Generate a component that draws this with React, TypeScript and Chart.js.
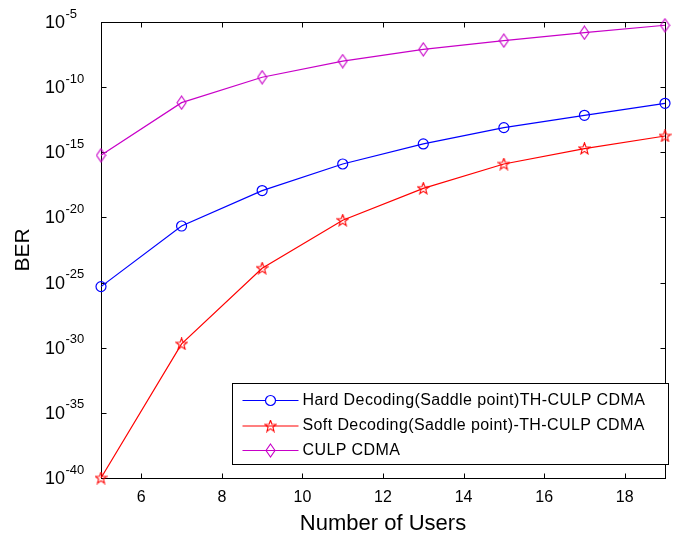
import React, { useEffect, useRef } from "react";
import { Chart, registerables } from "chart.js";
Chart.register(...registerables);

const FONT = "'Liberation Sans', Arial, Helvetica, sans-serif";

const users = [5, 7, 9, 11, 13, 15, 17, 19];
const hardBER = [4.9e-26, 2.19e-21, 1.15e-18, 1.26e-16, 4.37e-15, 7.76e-14, 6.92e-13, 5.75e-12];
const softBER = [1e-40, 1.95e-30, 1.26e-24, 6.03e-21, 1.7e-18, 1.26e-16, 1.91e-15, 1.78e-14];
const culpBER = [5.89e-16, 6.46e-12, 5.75e-10, 1.0e-8, 7.94e-8, 3.72e-7, 1.51e-6, 5.62e-6];
const xTicks = [6, 8, 10, 12, 14, 16, 18];
const yTickExps = [-40, -35, -30, -25, -20, -15, -10, -5];
const seriesLabels = [
  "Hard Decoding(Saddle point)TH-CULP CDMA",
  "Soft Decoding(Saddle point)-TH-CULP CDMA",
  "CULP CDMA",
];
const seriesColors = ["#0000ff", "#ff0000", "#c800c8"];

function makeStar(color: string): HTMLCanvasElement {
  const c = document.createElement("canvas");
  c.width = 13;
  c.height = 13;
  const g = c.getContext("2d")!;
  const cx = 6.5, cy = 6.8, R = 6, r = 2.5;
  g.beginPath();
  for (let i = 0; i < 10; i++) {
    const ang = -Math.PI / 2 + (i * Math.PI) / 5;
    const rad = i % 2 === 0 ? R : r;
    const px = cx + rad * Math.cos(ang);
    const py = cy + rad * Math.sin(ang);
    if (i === 0) g.moveTo(px, py);
    else g.lineTo(px, py);
  }
  g.closePath();
  g.strokeStyle = color;
  g.lineWidth = 1.1;
  g.stroke();
  return c;
}

function makeDiamond(color: string): HTMLCanvasElement {
  const c = document.createElement("canvas");
  c.width = 11;
  c.height = 15;
  const g = c.getContext("2d")!;
  g.beginPath();
  g.moveTo(5.5, 1);
  g.lineTo(10, 7.5);
  g.lineTo(5.5, 14);
  g.lineTo(1, 7.5);
  g.closePath();
  g.strokeStyle = color;
  g.lineWidth = 1.1;
  g.stroke();
  return c;
}

export default function App() {
  const ref = useRef<HTMLCanvasElement | null>(null);

  useEffect(() => {
    document.body.style.margin = "0";
    const canvas = ref.current!;
    const star = makeStar(seriesColors[1]);
    const diamond = makeDiamond(seriesColors[2]);
    const styles: any[] = ["circle", star, diamond];
    const values = [hardBER, softBER, culpBER];

    const framePlugin = {
      id: "frame",
      beforeDatasetsDraw(chart: any) {
        const { ctx, chartArea: a, scales } = chart;
        ctx.save();
        ctx.strokeStyle = "#000";
        ctx.lineWidth = 1;
        const L = Math.round(a.left) + 0.5;
        const R = Math.round(a.right) + 0.5;
        const T = Math.round(a.top) + 0.5;
        const B = Math.round(a.bottom) + 0.5;
        ctx.strokeRect(L, T, R - L, B - T);
        const tl = 5;
        ctx.beginPath();
        for (const v of xTicks) {
          const x = Math.round(scales.x.getPixelForValue(v)) + 0.5;
          ctx.moveTo(x, B);
          ctx.lineTo(x, B - tl);
          ctx.moveTo(x, T);
          ctx.lineTo(x, T + tl);
        }
        for (const e of yTickExps) {
          const y = Math.round(scales.y.getPixelForValue(Math.pow(10, e))) + 0.5;
          ctx.moveTo(L, y);
          ctx.lineTo(L + tl, y);
          ctx.moveTo(R, y);
          ctx.lineTo(R - tl, y);
        }
        ctx.stroke();
        // y tick labels 10^e
        ctx.fillStyle = "#000";
        ctx.textAlign = "left";
        ctx.textBaseline = "middle";
        for (const e of yTickExps) {
          const y = scales.y.getPixelForValue(Math.pow(10, e));
          ctx.font = `18px ${FONT}`;
          ctx.fillText("10", 45, y + 1);
          const w = ctx.measureText("10").width;
          ctx.font = `13px ${FONT}`;
          ctx.fillText(String(e), 45 + w + 0.5, y - 8);
        }
        ctx.restore();
      },
      afterDraw(chart: any) {
        const { ctx, chartArea: a } = chart;
        ctx.save();
        const lw = 436, lh = 81;
        const lx = Math.round(a.right + 3 - lw) + 0.5;
        const ly = Math.round(a.bottom - 14 - lh) + 0.5;
        ctx.fillStyle = "#fff";
        ctx.fillRect(lx, ly, lw, lh);
        ctx.strokeStyle = "#000";
        ctx.lineWidth = 1;
        ctx.strokeRect(lx, ly, lw, lh);
        const rows = [17, 42.5, 67];
        chart.data.datasets.forEach((ds: any, i: number) => {
          const y = ly + rows[i];
          ctx.strokeStyle = ds.borderColor;
          ctx.lineWidth = 1.2;
          ctx.beginPath();
          ctx.moveTo(lx + 10, y);
          ctx.lineTo(lx + 66, y);
          ctx.stroke();
          const st = ds.pointStyle;
          const mx = lx + 38;
          if (st === "circle") {
            ctx.beginPath();
            ctx.arc(mx, y, 5, 0, Math.PI * 2);
            ctx.fillStyle = "#fff";
            ctx.fill();
            ctx.stroke();
          } else {
            ctx.drawImage(st, mx - st.width / 2, y - st.height / 2);
          }
          ctx.fillStyle = "#000";
          ctx.font = `16px ${FONT}`;
          (ctx as any).letterSpacing = "0.4px";
          ctx.textAlign = "left";
          ctx.textBaseline = "middle";
          ctx.fillText(ds.label, lx + 70, y);
        });
        ctx.restore();
      },
    };

    const chart = new Chart(canvas, {
      type: "line",
      data: {
        datasets: seriesLabels.map((label, i) => ({
          label,
          data: users.map((x, j) => ({ x, y: values[i][j] })),
          borderColor: seriesColors[i],
          backgroundColor: "rgba(0,0,0,0)",
          borderWidth: 1.2,
          pointStyle: styles[i],
          pointRadius: 5,
          pointBorderWidth: 1.2,
          pointBorderColor: seriesColors[i],
          pointBackgroundColor: "rgba(0,0,0,0)",
          fill: false,
          tension: 0,
          clip: false as any,
        })),
      },
      options: {
        animation: false,
        responsive: false,
        events: [],
        layout: { padding: { top: 22, right: 19, left: 0, bottom: 0 } },
        plugins: { legend: { display: false }, tooltip: { enabled: false } },
        scales: {
          x: {
            type: "linear",
            min: 5,
            max: 19,
            afterBuildTicks: (ax: any) => {
              ax.ticks = xTicks.map((v) => ({ value: v }));
            },
            grid: { display: false, drawTicks: false },
            border: { display: false },
            ticks: {
              font: { size: 16, family: FONT },
              color: "#000",
              padding: 10,
              maxRotation: 0,
              autoSkip: false,
            },
            title: {
              display: true,
              text: "Number of Users",
              font: { size: 22, family: FONT },
              color: "#000",
              padding: { top: 0, bottom: 3 },
            },
            afterFit: (s: any) => {
              s.height = 62;
            },
          },
          y: {
            type: "logarithmic",
            min: 1e-40,
            max: 1e-5,
            afterBuildTicks: (ax: any) => {
              ax.ticks = yTickExps.map((e) => ({ value: Math.pow(10, e) }));
            },
            grid: { display: false, drawTicks: false },
            border: { display: false },
            ticks: { display: false },
            title: {
              display: true,
              text: "BER",
              font: { size: 21, family: FONT },
              color: "#000",
              padding: { top: 11, bottom: 0 },
            },
            afterFit: (s: any) => {
              s.width = 101;
            },
          },
        },
      },
      plugins: [framePlugin],
    } as any);
    return () => chart.destroy();
  }, []);

  return <canvas ref={ref} width={684} height={540} style={{ display: "block" }} />;
}
